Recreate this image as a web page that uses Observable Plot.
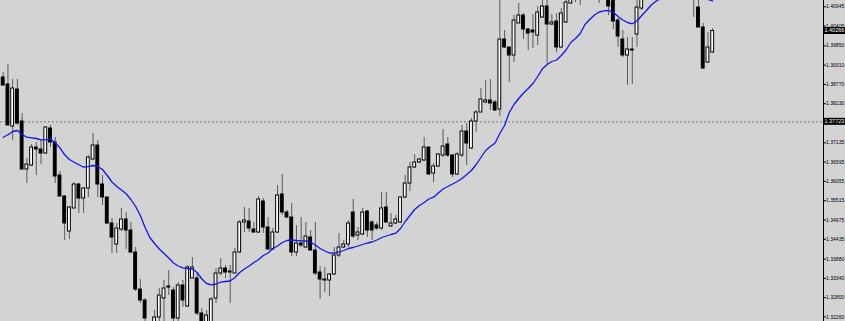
<!DOCTYPE html>
<html><head><meta charset="utf-8">
<script src="https://cdn.jsdelivr.net/npm/d3@7"></script>
<script src="https://cdn.jsdelivr.net/npm/@observablehq/plot@0.6"></script>
<style>html,body{margin:0;padding:0;background:#d3d3d3;overflow:hidden}</style>
</head><body><div id="chart"></div>
<script>
const opens = [1.38964,1.38768,1.37592,1.38628,1.37732,1.36388,1.36500,1.37004,1.36948,1.36836,1.37536,1.37144,1.36220,1.35632,1.34652,1.35296,1.35968,1.35576,1.35856,1.36668,1.37060,1.35968,1.35604,1.34876,1.34288,1.34708,1.34988,1.34680,1.34064,1.33028,1.32720,1.32076,1.31824,1.32244,1.32776,1.33084,1.33000,1.32216,1.33140,1.32552,1.33336,1.33336,1.32356,1.31936,1.32104,1.32776,1.33476,1.33616,1.33504,1.33476,1.34064,1.34904,1.34932,1.34708,1.34624,1.35492,1.34764,1.34148,1.34624,1.35688,1.35184,1.35044,1.34064,1.34316,1.34204,1.34484,1.34120,1.33504,1.33308,1.33280,1.33448,1.33980,1.34204,1.34288,1.35184,1.34540,1.34568,1.35212,1.34904,1.34820,1.34736,1.35324,1.34792,1.34876,1.34904,1.35604,1.35996,1.36444,1.36584,1.36640,1.37004,1.36276,1.36472,1.36780,1.37088,1.36780,1.36248,1.36780,1.37452,1.36976,1.37732,1.37984,1.38264,1.38320,1.38264,1.38068,1.40028,1.39804,1.39580,1.40476,1.40700,1.40308,1.40280,1.40140,1.40644,1.40952,1.40448,1.40532,1.39804,1.40504,1.41036,1.41232,1.41344,1.41204,1.41400,1.41512,1.41288,1.41176,1.41288,1.41176,1.40560,1.40028,1.39580,1.39748,1.40168,1.40896,1.41204,1.41400,1.41568,1.41456,1.41680,1.41792,1.41624,1.41736,1.41568,1.41400,1.41512,1.40924,1.40364,1.39384,1.39664];
const highs = [1.39104,1.39328,1.38908,1.38908,1.37956,1.36696,1.37088,1.37144,1.37228,1.37592,1.37620,1.37284,1.36332,1.35660,1.35352,1.36024,1.35996,1.35884,1.36780,1.37396,1.37200,1.36220,1.35604,1.35016,1.34876,1.35296,1.35184,1.34904,1.34204,1.33308,1.32776,1.32104,1.32440,1.33056,1.33280,1.33560,1.33084,1.33224,1.33280,1.33700,1.33924,1.33476,1.32496,1.32440,1.32804,1.33616,1.33896,1.33700,1.33700,1.34176,1.34960,1.35324,1.35296,1.34904,1.35632,1.35576,1.35044,1.34736,1.35940,1.36248,1.35240,1.35436,1.34820,1.35044,1.34904,1.34680,1.34904,1.33672,1.33644,1.33476,1.34204,1.34596,1.34400,1.34960,1.35548,1.34764,1.35296,1.35240,1.34960,1.34904,1.35744,1.35744,1.35156,1.35100,1.35604,1.36220,1.36584,1.36808,1.36696,1.37284,1.37004,1.36556,1.36836,1.37508,1.37284,1.36808,1.36864,1.37620,1.37676,1.37816,1.38040,1.38656,1.38880,1.38908,1.38320,1.41204,1.40280,1.39804,1.40700,1.41036,1.40756,1.40336,1.40728,1.40952,1.41120,1.41176,1.40728,1.40756,1.40896,1.41148,1.41344,1.41512,1.41456,1.41568,1.41680,1.41680,1.41456,1.41512,1.41400,1.41288,1.40616,1.40280,1.40084,1.40084,1.41148,1.41400,1.41568,1.41736,1.41792,1.41848,1.41960,1.41960,1.41904,1.41904,1.41736,1.41792,1.41680,1.41176,1.40476,1.40224,1.40336];
const lows = [1.38712,1.37620,1.37200,1.37620,1.36360,1.35996,1.36472,1.36220,1.36528,1.36808,1.37004,1.35996,1.35632,1.34400,1.34428,1.35296,1.35156,1.35156,1.35604,1.36640,1.35604,1.35380,1.34848,1.34036,1.34036,1.34652,1.34148,1.34036,1.32972,1.32636,1.31992,1.31656,1.31712,1.32048,1.32104,1.32860,1.32104,1.32104,1.32524,1.32524,1.33336,1.32300,1.31880,1.31824,1.32020,1.32636,1.33420,1.33336,1.32636,1.33476,1.34036,1.34624,1.34624,1.34596,1.34596,1.34596,1.34120,1.34120,1.34596,1.35100,1.35016,1.33952,1.33952,1.34204,1.34176,1.34092,1.33420,1.32748,1.32944,1.32832,1.33420,1.33924,1.34176,1.34204,1.34456,1.34400,1.34540,1.34484,1.34400,1.34680,1.34680,1.34876,1.34764,1.34848,1.34876,1.35576,1.35772,1.36416,1.36556,1.36612,1.36220,1.36024,1.36444,1.36724,1.36724,1.36164,1.36220,1.36724,1.36500,1.36948,1.37424,1.37984,1.38236,1.38040,1.38012,1.37872,1.39776,1.38824,1.39384,1.40476,1.40028,1.39720,1.39776,1.39860,1.40616,1.39328,1.40420,1.39664,1.39776,1.40476,1.41008,1.41064,1.40980,1.41148,1.41288,1.41204,1.41036,1.41148,1.40700,1.40308,1.39804,1.39524,1.38740,1.38768,1.39804,1.40840,1.41148,1.41344,1.41372,1.41344,1.41568,1.41512,1.41456,1.41400,1.41288,1.41232,1.40644,1.40364,1.39188,1.39356,1.39636];
const closes = [1.38740,1.37620,1.38656,1.37676,1.36388,1.36528,1.37004,1.36948,1.36836,1.37564,1.37144,1.36192,1.35632,1.34876,1.35324,1.35968,1.35576,1.35856,1.36724,1.37060,1.35968,1.35604,1.34876,1.34484,1.34736,1.34988,1.34680,1.34064,1.33028,1.32720,1.32216,1.31796,1.32244,1.32860,1.33056,1.33112,1.32216,1.33140,1.32720,1.33644,1.33644,1.32356,1.32020,1.32300,1.32748,1.33476,1.33616,1.33504,1.33532,1.34064,1.34904,1.34960,1.34736,1.34624,1.35548,1.34764,1.34148,1.34624,1.35660,1.35184,1.35044,1.34064,1.34316,1.34260,1.34512,1.34120,1.33476,1.33308,1.33280,1.33448,1.33980,1.34204,1.34288,1.34876,1.34512,1.34624,1.35184,1.34680,1.34680,1.34736,1.35296,1.34904,1.34876,1.34988,1.35604,1.35996,1.36444,1.36584,1.36668,1.37004,1.36248,1.36472,1.36808,1.37032,1.36780,1.36248,1.36808,1.37452,1.37116,1.37732,1.37984,1.38348,1.38320,1.38236,1.38040,1.40028,1.39804,1.39580,1.40560,1.40700,1.40308,1.40196,1.40224,1.40784,1.40952,1.40448,1.40504,1.39804,1.40756,1.41064,1.41232,1.41372,1.41176,1.41400,1.41512,1.41288,1.41176,1.41344,1.40952,1.40532,1.40112,1.39580,1.39748,1.39720,1.40924,1.41204,1.41400,1.41568,1.41456,1.41680,1.41792,1.41624,1.41736,1.41568,1.41400,1.41512,1.41204,1.40364,1.39216,1.39804,1.40266];
const maValues = [1.37292,1.37360,1.37452,1.37480,1.37368,1.37292,1.37276,1.37256,1.37220,1.37220,1.37248,1.37130,1.36996,1.36800,1.36668,1.36592,1.36520,1.36452,1.36472,1.36500,1.36472,1.36388,1.36220,1.36038,1.35912,1.35814,1.35708,1.35548,1.35352,1.35100,1.34764,1.34484,1.34316,1.34162,1.34036,1.33910,1.33770,1.33686,1.33636,1.33616,1.33602,1.33504,1.33322,1.33196,1.33160,1.33182,1.33232,1.33252,1.33266,1.33364,1.33504,1.33602,1.33686,1.33784,1.33868,1.33980,1.34050,1.34176,1.34246,1.34344,1.34400,1.34414,1.34400,1.34392,1.34386,1.34352,1.34274,1.34176,1.34106,1.34050,1.34044,1.34078,1.34120,1.34176,1.34204,1.34246,1.34288,1.34330,1.34358,1.34414,1.34484,1.34526,1.34568,1.34604,1.34736,1.34932,1.35100,1.35268,1.35380,1.35464,1.35562,1.35612,1.35730,1.35842,1.35912,1.35982,1.36052,1.36136,1.36248,1.36360,1.36528,1.36724,1.36920,1.37032,1.37130,1.37396,1.37620,1.37984,1.38208,1.38376,1.38530,1.38656,1.38796,1.38992,1.39208,1.39328,1.39412,1.39454,1.39580,1.39734,1.39944,1.40056,1.40196,1.40448,1.40588,1.40714,1.40798,1.40832,1.40840,1.40784,1.40672,1.40574,1.40504,1.40468,1.40546,1.40700,1.40840,1.40994,1.41098,1.41176,1.41232,1.41288,1.41316,1.41330,1.41316,1.41288,1.41260,1.41218,1.41176,1.41148,1.41106];
const tickValues = [1.40945,1.40405,1.39850,1.39310,1.38770,1.38230,1.37135,1.36595,1.36055,1.35515,1.34975,1.34435,1.33880,1.33340,1.32800,1.32260];
const levelPrice = 1.37723;
const lastPrice = 1.40266;

const W = 845, H = 321, MR = 22;
const FONT = "'Liberation Sans Narrow', 'Liberation Sans', Arial, sans-serif";
const candles = opens.map((o, i) => ({i, open: o, high: highs[i], low: lows[i], close: closes[i]}));
const ma = maValues.map((v, i) => ({i, v}));
const fmt = d3.format(".5f");

const chart = Plot.plot({
  width: W, height: H,
  marginLeft: 0, marginTop: 0, marginBottom: 0, marginRight: MR,
  style: {background: "#d3d3d3", color: "black", fontFamily: FONT, fontSize: "6.8px"},
  x: {domain: [-0.571, 173.43], axis: null},
  y: {domain: [1.32132, 1.4112], axis: "right", ticks: tickValues, tickSize: 2, tickPadding: 0.5, tickFormat: fmt, line: true, label: null},
  marks: [
    Plot.ruleY([levelPrice], {stroke: "#777", strokeDasharray: "2,2"}),
    Plot.ruleX(candles, {x: "i", y1: "low", y2: "high", stroke: "#5a5a5a", strokeWidth: 1, clip: true}),
    Plot.rect(candles, {x1: d => d.i - 0.3, x2: d => d.i + 0.3, y1: "open", y2: "close",
      fill: d => d.close >= d.open ? "white" : "black", stroke: "black", strokeWidth: 1, clip: true}),
    Plot.line(ma, {x: "i", y: "v", stroke: "#1414f0", strokeWidth: 1.3, clip: true})
  ]
});
document.getElementById("chart").appendChild(chart);

const svg = d3.select(chart);
const ys = chart.scale("y");
[lastPrice, levelPrice].forEach(p => {
  const y = ys.apply(p);
  svg.append("rect").attr("x", W - MR).attr("y", y - 3.5).attr("width", MR).attr("height", 7).attr("fill", "black");
  svg.append("text").attr("x", W - MR + 1.5).attr("y", y).attr("dy", "0.32em").attr("fill", "white")
    .attr("text-anchor", "start")
    .style("font-size", "6.8px").style("font-family", FONT).text(fmt(p));
});
// shrink any price label that would not fit in the narrow price column
const svgLeft = chart.getBoundingClientRect().left;
svg.selectAll("text").filter(function() { return /^1\.\d{5}$/.test(this.textContent); })
  .each(function() {
    const r = this.getBoundingClientRect();
    const avail = W - 0.5 - (r.left - svgLeft);
    if (r.width > avail) {
      const fs = parseFloat(getComputedStyle(this).fontSize);
      this.style.fontSize = (fs * avail / r.width).toFixed(2) + "px";
    }
  });
</script>
</body></html>
